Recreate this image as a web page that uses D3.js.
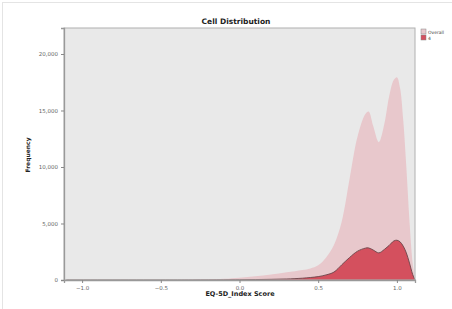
<html>
<head>
<meta charset="utf-8">
<script src="https://d3js.org/d3.v7.min.js"></script>
<style>
body { margin: 0; background: #fff; }
text { font-family: "DejaVu Sans", sans-serif; }
.tick text { fill: #666; font-size: 5.5px; }
.tick line { stroke: #888; }
.domain { stroke: #999; }
</style>
</head>
<body>
<script>
// EQ-5D index score grid and estimated densities
var scores  = [-1.1, -0.5, -0.3, -0.1, 0.0, 0.1, 0.2, 0.3, 0.4, 0.45, 0.5, 0.55, 0.6, 0.65, 0.7, 0.75, 0.8, 0.82, 0.85, 0.885, 0.92, 0.95, 0.98, 1.0, 1.02, 1.04, 1.06, 1.08, 1.1, 1.115];
var overall = [0, 0, 20, 100, 200, 330, 480, 680, 880, 1020, 1300, 2000, 3100, 5200, 9000, 12700, 14700, 14900, 13600, 12200, 13800, 16200, 17700, 17950, 17000, 14200, 10000, 5200, 1500, 0];
var group4  = [0, 0, 0, 10, 20, 40, 60, 90, 160, 220, 300, 450, 700, 1350, 2000, 2550, 2820, 2840, 2650, 2400, 2700, 3050, 3450, 3520, 3380, 3000, 2400, 1500, 500, 0];
var seriesNames = ["Overall", "4"];
var yTicks = [0, 5000, 10000, 15000, 20000];
var xTicks = [-1.0, -0.5, 0.0, 0.5, 1.0];

var margin = {top: 28, right: 37, bottom: 29, left: 64},
    width = 452 - margin.left - margin.right,
    height = 309 - margin.top - margin.bottom;

var svg = d3.select("body").append("svg")
    .attr("width", 452)
    .attr("height", 309);

// faint outer frame
svg.append("rect")
    .attr("x", 2.5).attr("y", 2.5)
    .attr("width", 460).attr("height", 320)
    .attr("fill", "none")
    .attr("stroke", "#e4e4e4");

var g = svg.append("g")
    .attr("transform", "translate(" + margin.left + "," + margin.top + ")");

var x = d3.scaleLinear().domain([-1.115, 1.115]).range([0, width]);
var y = d3.scaleLinear().domain([0, 22300]).range([height, 0]);

g.append("rect")
    .attr("width", width)
    .attr("height", height)
    .attr("fill", "#e9e9e9");

var curve = d3.curveCatmullRom.alpha(0.5);
var area = function(vals) {
  return d3.area()
    .x(function(d, i) { return x(scores[i]); })
    .y0(height)
    .y1(function(d) { return Math.min(height, y(d)); })
    .curve(curve)(vals);
};
var line = function(vals) {
  return d3.line()
    .x(function(d, i) { return x(scores[i]); })
    .y(function(d) { return y(d); })
    .curve(curve)(vals);
};

g.append("path").attr("d", area(overall)).attr("fill", "#e8c8cc");
g.append("path").attr("d", area(group4)).attr("fill", "#d4505e");
g.append("path").attr("d", line(group4))
    .attr("fill", "none").attr("stroke", "#6a4549").attr("stroke-width", 0.9);

// plot border
g.append("rect")
    .attr("width", width)
    .attr("height", height)
    .attr("fill", "none")
    .attr("stroke", "#b0b0b0");

// axes
g.append("g")
    .attr("transform", "translate(0," + height + ")")
    .call(d3.axisBottom(x).tickValues(xTicks).tickSize(3).tickFormat(d3.format(".1f")));

g.append("g")
    .call(d3.axisLeft(y).tickValues(yTicks).tickSize(3).tickFormat(d3.format(",")));

g.selectAll(".domain").attr("stroke", "#888").attr("stroke-width", 1.3);

// title and labels
svg.append("text")
    .attr("x", 236).attr("y", 24)
    .style("text-anchor", "middle")
    .style("font-weight", "bold")
    .style("font-size", "7.5px")
    .style("fill", "#222")
    .text("Cell Distribution");

svg.append("text")
    .attr("x", 240).attr("y", 296)
    .style("text-anchor", "middle")
    .style("font-weight", "bold")
    .style("font-size", "6.5px")
    .style("fill", "#222")
    .text("EQ-5D_Index Score");

svg.append("text")
    .attr("transform", "translate(30,155) rotate(-90)")
    .style("text-anchor", "middle")
    .style("font-weight", "bold")
    .style("font-size", "6px")
    .style("fill", "#222")
    .text("Frequency");

// legend
var legColors = ["#e8c8cc", "#d4505e"];
var leg = svg.append("g").attr("transform", "translate(421,29)");
seriesNames.forEach(function(n, i) {
  leg.append("rect")
    .attr("x", 0).attr("y", i * 6)
    .attr("width", 5).attr("height", 5)
    .attr("fill", legColors[i])
    .attr("stroke", "#888").attr("stroke-width", 0.5);
  leg.append("text")
    .attr("x", 7).attr("y", i * 6 + 4.5)
    .style("font-size", "4.5px")
    .style("fill", "#444")
    .text(n);
});
</script>
</body>
</html>
